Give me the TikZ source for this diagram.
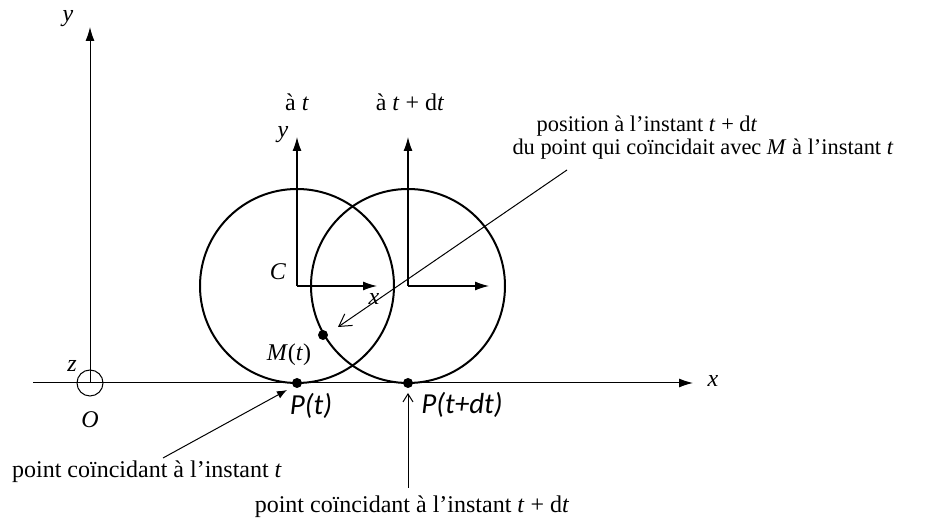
\documentclass[tikz,border=0pt]{standalone}
\usepackage{fontspec}
\setmainfont{Liberation Serif}
\newfontfamily\calfont{Carlito}
\usetikzlibrary{arrows.meta}
\newcommand{\tpdt}{\textit{t}\hspace{0.25em}+\hspace{0.25em}d\textit{t}}
\begin{document}
\begin{tikzpicture}[x=0.5pt,y=-0.5pt,
  font=\fontsize{12}{14}\selectfont,
  axis/.style={line width=0.5pt,-{Latex[length=7pt,width=4.5pt]}},
  frame/.style={line width=0.6pt,-{Latex[length=7pt,width=4.5pt]}},
  wheel/.style={line width=1pt},
  pointer/.style={line width=0.5pt,-{Straight Barb[length=4pt,width=5pt]}},
  dot/.style={circle,fill=black,inner sep=0pt,minimum size=5pt},
  lab/.style={inner sep=1pt},
  smalllab/.style={inner sep=1pt,font=\fontsize{11.2}{13}\selectfont},
  plab/.style={inner sep=1pt,font=\fontsize{14.5}{16}\selectfont\calfont\itshape}]
\useasboundingbox (0,0) rectangle (933,522);
% main axes
\coordinate (O) at (90,383);
\coordinate (xstart) at (33,383);
\coordinate (xend) at (693,383);
\coordinate (yend) at (90,27);
\draw[axis] (xstart) -- (xend);
\draw[axis] (O) -- (yend);
\node[circle,draw,line width=0.5pt,minimum size=13pt,inner sep=0pt] (zc) at (O) {};
\node[lab] (xlab) at (713,381) {\textit{x}};
\node[lab] (ylab) at (68,19) {\textit{y}};
\node[lab] (zlab) at (72,366) {\textit{z}};
\node[lab] (Olab) at (90,420) {\textit{O}};
% wheels
\coordinate (C1) at (297,286);
\coordinate (C2) at (408,286);
\draw[wheel] (C1) circle[radius=97];
\draw[wheel] (C2) circle[radius=97];
% frames
\coordinate (y1) at (297,137);
\coordinate (x1) at (377,286);
\coordinate (y2) at (408,137);
\coordinate (x2) at (489,286);
\draw[frame] (C1) -- (y1);
\draw[frame] (C1) -- (x1);
\draw[frame] (C2) -- (y2);
\draw[frame] (C2) -- (x2);
\node[lab] (fy) at (283,135) {\textit{y}};
\node[lab] (fx) at (374,299) {\textit{x}};
\node[lab] (Clab) at (278,272) {\textit{C}};
\node[lab] (at1) at (297,102) {à \textit{t}};
\node[lab] (at2) at (410,102) {à \tpdt};
% points
\node[dot] (Pt) at (297,383) {};
\node[dot] (Ptdt) at (408,383) {};
\node[dot] (M) at (323,335) {};
\node[lab] (Mlab) at (289,355) {\textit{M}(\textit{t})};
\node[plab] (Ptlab) at (311,406) {P(t)};
\node[plab] (Ptdtlab) at (462,405) {P(t+dt)};
% annotations
\node[smalllab] (pos1) at (647,126) {position à l’instant \tpdt};
\node[smalllab] (pos2) at (703,149) {du point qui coïncidait avec \textit{M} à l’instant \textit{t}};
\coordinate (posfoot) at (567,170);
\coordinate (Mnew) at (338,327);
\draw[line width=0.5pt,-{Straight Barb[length=6pt,width=7pt]}] (posfoot) -- (Mnew);
\node[lab] (pc1) at (147,472) {point coïncidant à l’instant \textit{t}};
\coordinate (pc1foot) at (163,458);
\coordinate (pc1tip) at (287,390);
\draw[line width=0.5pt,-{Latex[length=5pt,width=4pt]}] (pc1foot) -- (pc1tip);
\node[lab] (pc2) at (412,507) {point coïncidant à l’instant \tpdt};
\coordinate (pc2foot) at (408,488);
\coordinate (pc2tip) at (408,393);
\draw[pointer] (pc2foot) -- (pc2tip);
\end{tikzpicture}
\end{document}
